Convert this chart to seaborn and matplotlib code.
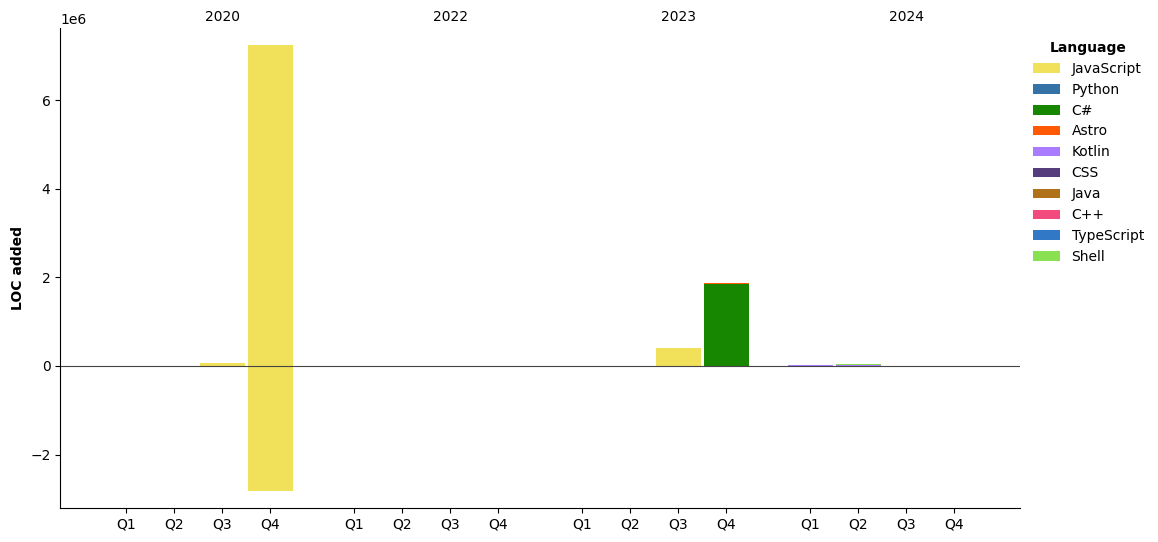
import numpy as np
import pandas as pd
import seaborn as sns
import matplotlib.pyplot as plt

years = ['2020', '2022', '2023', '2024']
quarters = ['Q1', 'Q2', 'Q3', 'Q4']
languages = ['JavaScript', 'Python', 'C#', 'Astro', 'Kotlin', 'CSS',
             'Java', 'C++', 'TypeScript', 'Shell']
colors = ['#f1e05a', '#3572A5', '#178600', '#ff5a03', '#A97BFF', '#563d7c',
          '#b07219', '#f34b7d', '#3178c6', '#89e051']

# LOC added per quarter (2020 Q1..Q4, 2022 Q1..Q4, 2023 Q1..Q4, 2024 Q1..Q4)
added_javascript = [0, 0, 65000, 7250000, 0, 0, 0, 0, 0, 0, 405000, 0, 0, 0, 0, 0]
added_csharp = [0, 0, 0, 0, 0, 0, 0, 0, 0, 0, 0, 1850000, 0, 0, 0, 0]
added_astro = [0, 0, 0, 0, 0, 0, 0, 0, 0, 0, 0, 15000, 0, 0, 0, 0]
added_kotlin = [0, 0, 0, 0, 0, 0, 0, 0, 0, 0, 0, 0, 20000, 15000, 0, 0]
added_shell = [0, 0, 0, 0, 0, 0, 0, 0, 0, 0, 0, 0, 0, 30000, 0, 0]
# LOC removed (drawn below zero)
removed_javascript = [0, 0, 0, -2830000, 0, 0, 0, 0, 0, 0, 0, 0, 0, 0, 0, 0]

zeros = [0] * 16
added = {
    'JavaScript': added_javascript, 'Python': zeros, 'C#': added_csharp,
    'Astro': added_astro, 'Kotlin': added_kotlin, 'CSS': zeros, 'Java': zeros,
    'C++': zeros, 'TypeScript': zeros, 'Shell': added_shell,
}
removed = {lang: zeros for lang in languages}
removed['JavaScript'] = removed_javascript

sns.set_palette(colors)
plt.rcParams['font.family'] = ['DejaVu Sans']

fig, ax = plt.subplots(figsize=(11.58, 5.42), dpi=100)
fig.subplots_adjust(left=0.052, right=0.881, top=0.948, bottom=0.063)

gap = 0.75
xpos = np.array([g * (4 + gap) + q for g in range(len(years)) for q in range(4)])
width = 0.93

pos_bottom = np.zeros(16)
neg_bottom = np.zeros(16)
for lang, col in zip(languages, colors):
    up = np.array(added[lang], dtype=float)
    down = np.array(removed[lang], dtype=float)
    ax.bar(xpos, up, width, bottom=pos_bottom, color=col, label=lang,
           edgecolor='none')
    ax.bar(xpos, down, width, bottom=neg_bottom, color=col, edgecolor='none')
    pos_bottom += up
    neg_bottom += down

ax.axhline(0, color='#444444', lw=0.8)

ax.set_xticks(xpos)
ax.set_xticklabels(quarters * len(years), fontsize=10)
ax.set_xlim(xpos[0] - 1.375, xpos[-1] + 1.375)
ax.set_ylim(-3.2e6, 7.62e6)
ax.set_ylabel('LOC added', fontsize=10, fontweight='bold')

for g, yr in enumerate(years):
    ax.text(g * (4 + gap) + 2, 1.009, yr, transform=ax.get_xaxis_transform(),
            ha='center', va='bottom', fontsize=10)

sns.despine(ax=ax)

leg = ax.legend(title='Language', loc='upper left', bbox_to_anchor=(1.0, 1.0),
                frameon=False, fontsize=10, title_fontsize=10)
leg.get_title().set_fontweight('bold')

plt.savefig('out.png', dpi=100)
